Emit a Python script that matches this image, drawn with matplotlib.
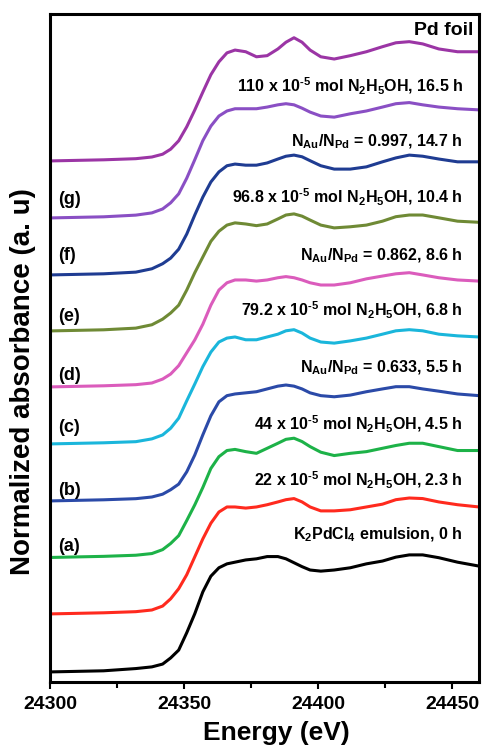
import numpy as np
import matplotlib
matplotlib.use("Agg")
import matplotlib.pyplot as plt
from matplotlib.ticker import MultipleLocator

plt.rcParams['font.family'] = ['Liberation Sans', 'DejaVu Sans']
plt.rcParams['font.weight'] = 'bold'
plt.rcParams['mathtext.fontset'] = 'custom'
plt.rcParams['mathtext.rm'] = 'Liberation Sans:bold'
plt.rcParams['mathtext.it'] = 'Liberation Sans:bold'
plt.rcParams['mathtext.bf'] = 'Liberation Sans:bold'
plt.rcParams['mathtext.default'] = 'rm'

# energy grid (eV) shared by all spectra
energy = [24300, 24320, 24332, 24338, 24342, 24345, 24348, 24351, 24354, 24357,
          24360, 24363, 24366, 24369, 24373, 24377, 24381, 24385, 24388, 24391,
          24394, 24397, 24401, 24406, 24412, 24418, 24424, 24429, 24434, 24439,
          24445, 24452, 24460]

# normalized absorbance, bottom to top
k2pdcl4 = [0, 0.01, 0.03, 0.045, 0.07, 0.125, 0.195, 0.35, 0.52, 0.715,
           0.855, 0.93, 0.965, 0.98, 1.0, 1.01, 1.03, 1.03, 1.01, 0.975,
           0.94, 0.91, 0.90, 0.91, 0.93, 0.965, 0.99, 1.025, 1.045, 1.045,
           1.02, 0.98, 0.945]
hyd_22 = [0, 0.01, 0.02, 0.035, 0.07, 0.135, 0.225, 0.35, 0.51, 0.67,
          0.81, 0.91, 0.955, 0.955, 0.945, 0.955, 0.975, 1.0, 1.02, 1.03,
          1.0, 0.955, 0.92, 0.92, 0.93, 0.955, 0.98, 1.02, 1.035, 1.03,
          1.0, 0.975, 0.955]
hyd_44 = [0, 0.01, 0.02, 0.035, 0.07, 0.125, 0.195, 0.33, 0.47, 0.625,
          0.795, 0.90, 0.955, 0.965, 0.945, 0.93, 0.975, 1.02, 1.055, 1.065,
          1.035, 0.99, 0.94, 0.91, 0.93, 0.945, 0.975, 1.0, 1.02, 1.02,
          0.99, 0.955, 0.955]
ratio_0633 = [0, 0.01, 0.02, 0.035, 0.06, 0.10, 0.15, 0.26, 0.41, 0.59,
              0.76, 0.885, 0.94, 0.955, 0.965, 0.975, 1.0, 1.025, 1.035, 1.025,
              1.0, 0.965, 0.94, 0.93, 0.945, 0.975, 1.0, 1.02, 1.02, 1.0,
              0.98, 0.955, 0.94]
hyd_792 = [0, 0.01, 0.02, 0.045, 0.08, 0.14, 0.23, 0.385, 0.535, 0.69,
           0.82, 0.91, 0.945, 0.955, 0.93, 0.93, 0.955, 0.98, 1.01, 1.02,
           0.99, 0.945, 0.91, 0.90, 0.92, 0.945, 0.98, 1.01, 1.02, 1.01,
           0.98, 0.965, 0.955]
ratio_0862 = [0, 0.01, 0.02, 0.035, 0.07, 0.115, 0.19, 0.305, 0.42, 0.56,
              0.73, 0.865, 0.93, 0.955, 0.955, 0.945, 0.955, 0.975, 0.985, 0.975,
              0.955, 0.93, 0.91, 0.91, 0.93, 0.965, 0.99, 1.01, 1.02, 1.0,
              0.975, 0.955, 0.945]
hyd_968 = [0, 0.01, 0.025, 0.055, 0.105, 0.16, 0.23, 0.365, 0.52, 0.66,
           0.80, 0.89, 0.945, 0.965, 0.955, 0.94, 0.955, 1.0, 1.035, 1.045,
           1.025, 0.99, 0.945, 0.92, 0.93, 0.945, 0.98, 1.02, 1.035, 1.035,
           1.01, 0.98, 0.97]
ratio_0997 = [0, 0.01, 0.025, 0.055, 0.10, 0.15, 0.23, 0.365, 0.535, 0.695,
              0.83, 0.92, 0.975, 0.99, 0.98, 0.98, 1.0, 1.035, 1.06, 1.07,
              1.055, 1.02, 0.975, 0.945, 0.945, 0.965, 1.01, 1.045, 1.07, 1.06,
              1.035, 1.01, 1.01]
hyd_110 = [0, 0.01, 0.025, 0.045, 0.08, 0.135, 0.215, 0.355, 0.52, 0.69,
           0.82, 0.91, 0.955, 0.975, 0.975, 0.975, 0.99, 1.01, 1.02, 1.01,
           0.98, 0.945, 0.91, 0.90, 0.93, 0.955, 0.99, 1.02, 1.03, 1.01,
           0.99, 0.975, 0.965]
pd_foil = [0, 0.01, 0.02, 0.035, 0.06, 0.105, 0.18, 0.305, 0.455, 0.615,
           0.77, 0.885, 0.965, 0.99, 0.975, 0.93, 0.94, 1.0, 1.06, 1.10,
           1.06, 0.99, 0.93, 0.91, 0.94, 0.975, 1.02, 1.055, 1.065, 1.045,
           1.0, 0.975, 0.975]

spectra = [k2pdcl4, hyd_22, hyd_44, ratio_0633, hyd_792,
           ratio_0862, hyd_968, ratio_0997, hyd_110, pd_foil]
offsets = [0, 0.518, 1.022, 1.527, 2.036, 2.545, 3.045, 3.545, 4.054, 4.563]
colors = ['#000000', '#ff2a1e', '#1db248', '#2b4aa8', '#1ab6db',
          '#db5cbc', '#6f8a35', '#1f3c92', '#8a4fc4', '#9b35a5']

notes = [r'K$_2$PdCl$_4$ emulsion, 0 h',
         r'22 x 10$^{\text{-5}}$ mol N$_2$H$_5$OH, 2.3 h',
         r'44 x 10$^{\text{-5}}$ mol N$_2$H$_5$OH, 4.5 h',
         r'N$_{Au}$/N$_{Pd}$ = 0.633, 5.5 h',
         r'79.2 x 10$^{\text{-5}}$ mol N$_2$H$_5$OH, 6.8 h',
         r'N$_{Au}$/N$_{Pd}$ = 0.862, 8.6 h',
         r'96.8 x 10$^{\text{-5}}$ mol N$_2$H$_5$OH, 10.4 h',
         r'N$_{Au}$/N$_{Pd}$ = 0.997, 14.7 h',
         r'110 x 10$^{\text{-5}}$ mol N$_2$H$_5$OH, 16.5 h',
         'Pd foil']
note_y = [1.22, 1.71, 2.21, 2.72, 3.23, 3.72, 4.24, 4.73, 5.23, 5.73]

letters = ['(a)', '(b)', '(c)', '(d)', '(e)', '(f)', '(g)']
letter_y = [1.12, 1.62, 2.18, 2.65, 3.17, 3.72, 4.22]

fig = plt.figure(figsize=(4.82, 7.48), dpi=100)
ax = fig.add_axes([50/482, 1-682/748, 429/482, 668/748])

for spec, off, col in zip(spectra, offsets, colors):
    ax.plot(energy, np.array(spec) + off, color=col, lw=2.2,
            solid_joinstyle='round')

for txt, y in zip(notes, note_y):
    ax.text(24454, y, txt, ha='right', va='center', fontsize=11.5)
# Pd foil label sits a bit further right and is larger
ax.texts[-1].set_x(24458)
ax.texts[-1].set_fontsize(14)

for lab, y in zip(letters, letter_y):
    ax.text(24303, y, lab, ha='left', va='center', fontsize=13)

ax.set_xlim(24300, 24460)
ax.set_ylim(-0.09, 5.875)
ax.set_yticks([])
ax.xaxis.set_major_locator(MultipleLocator(50))
ax.xaxis.set_minor_locator(MultipleLocator(25))
ax.tick_params(axis='x', which='major', direction='out', length=5, width=1.5,
               labelsize=14, pad=5)
ax.tick_params(axis='x', which='minor', direction='out', length=4, width=1.5)
for sp in ax.spines.values():
    sp.set_linewidth(2.2)

ax.set_xlabel('Energy (eV)', fontsize=19, fontweight='bold')
ax.xaxis.set_label_coords(0.527, -0.058)
fig.text(23/482, 1-382/748, 'Normalized absorbance (a. u)', rotation=90,
         ha='center', va='center', fontsize=20, fontweight='bold')

fig.savefig('out.png', dpi=100)
